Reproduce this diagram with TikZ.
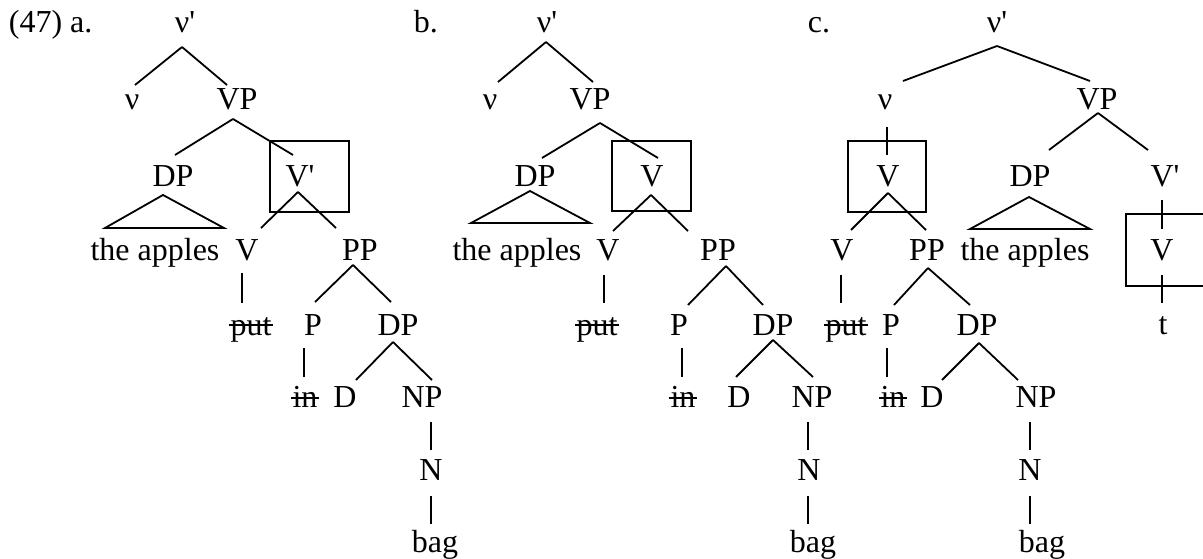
\documentclass[tikz,border=0pt]{standalone}
\usepackage{fontspec}
\setmainfont{Liberation Serif}[Ligatures=TeXOff]
\usetikzlibrary{calc}
\tikzstyle{lbl} = [anchor=base, inner sep=0pt, font=\fontsize{32}{38}\selectfont]
\tikzstyle{ex} = [lbl, anchor=base west]

\begin{document}
\begin{tikzpicture}[x=1pt, y=-1pt, line width=1.8pt]
    \clip (0,0) rectangle (1203,559);
    \fill[white] (0,0) rectangle (1203,559);

    % (47) a.
    \node[ex]  (lbla)  at (8,33)    {(47) a.};
    \node[lbl] (nupa)  at (185,33)  {ν'};
    \node[lbl] (nua)   at (132,110) {ν};
    \node[lbl] (vpa)   at (237,110) {VP};
    \node[lbl] (dpa)   at (173,187) {DP};
    \node[lbl] (vbara) at (300,187) {V'};
    \node[lbl] (apla)  at (155,260) {the apples};
    \node[lbl] (va)    at (247,260) {V};
    \node[lbl] (ppa)   at (360,260) {PP};
    \node[lbl] (puta)  at (251,335) {put};
    \node[lbl] (pa)    at (313,335) {P};
    \node[lbl] (dpla)  at (398,335) {DP};
    \node[lbl] (ina)   at (305,407) {in};
    \node[lbl] (da)    at (345,407) {D};
    \node[lbl] (npa)   at (422,407) {NP};
    \node[lbl] (na)    at (431,480) {N};
    \node[lbl] (baga)  at (435,552) {bag};

    \draw ($(nupa.base)+(-3,14)$) -- ($(nua.base)+(3,-25)$);
    \draw ($(nupa.base)+(-3,14)$) -- ($(vpa.base)+(-10,-25)$);
    \draw ($(vpa.base)+(-4,9)$) -- ($(dpa.base)+(2,-32)$);
    \draw ($(vpa.base)+(-4,9)$) -- ($(vbara.base)+(-7,-32)$);
    \draw ($(dpa.base)+(-10,8)$) -- ($(apla.base)+(-50,-32)$) -- ($(apla.base)+(69,-32)$) -- cycle;
    \draw ($(vbara.base)+(-2,5)$) -- ($(va.base)+(14,-32)$);
    \draw ($(vbara.base)+(-2,5)$) -- ($(ppa.base)+(-24,-32)$);
    \draw ($(va.base)+(-5,13)$) -- ($(puta.base)+(-9,-32)$);
    \draw ($(ppa.base)+(-7,5)$) -- ($(pa.base)+(2,-33)$);
    \draw ($(ppa.base)+(-7,5)$) -- ($(dpla.base)+(-7,-33)$);
    \draw ($(pa.base)+(-9,13)$) -- ($(ina.base)+(-1,-30)$);
    \draw ($(dpla.base)+(-5,7)$) -- ($(da.base)+(11,-27)$);
    \draw ($(dpla.base)+(-5,7)$) -- ($(npa.base)+(10,-27)$);
    \draw ($(npa.base)+(9,15)$) -- ($(na.base)+(0,-30)$);
    \draw ($(na.base)+(0,16)$) -- ($(baga.base)+(-4,-28)$);
    \draw ($(vbara.base)+(-30,-46)$) rectangle ($(vbara.base)+(49,25)$);
    % struck out copies
    \draw ($(puta.base west)+(-1,-10)$) -- ($(puta.base east)+(1,-10)$);
    \draw ($(ina.base west)+(-1,-9)$) -- ($(ina.base east)+(1,-9)$);

    % b.
    \node[ex]  (lblb)  at (413,33)  {b.};
    \node[lbl] (nupb)  at (547,33)  {ν'};
    \node[lbl] (nub)   at (490,110) {ν};
    \node[lbl] (vpb)   at (590,110) {VP};
    \node[lbl] (dpb)   at (535,187) {DP};
    \node[lbl] (vb)    at (652,187) {V};
    \node[lbl] (aplb)  at (517,260) {the apples};
    \node[lbl] (vlb)   at (608,260) {V};
    \node[lbl] (ppb)   at (718,260) {PP};
    \node[lbl] (putb)  at (597,335) {put};
    \node[lbl] (pb)    at (679,335) {P};
    \node[lbl] (dplb)  at (773,335) {DP};
    \node[lbl] (inb)   at (683,407) {in};
    \node[lbl] (db)    at (739,407) {D};
    \node[lbl] (npb)   at (812,407) {NP};
    \node[lbl] (nb)    at (809,480) {N};
    \node[lbl] (bagb)  at (813,552) {bag};

    \draw ($(nupb.base)+(-1,9)$) -- ($(nub.base)+(8,-28)$);
    \draw ($(nupb.base)+(-1,9)$) -- ($(vpb.base)+(3,-28)$);
    \draw ($(vpb.base)+(10,13)$) -- ($(dpb.base)+(7,-29)$);
    \draw ($(vpb.base)+(10,13)$) -- ($(vb.base)+(6,-29)$);
    \draw ($(dpb.base)+(-5,4)$) -- ($(aplb.base)+(-46,-37)$) -- ($(aplb.base)+(73,-37)$) -- cycle;
    \draw ($(vb.base)+(-1,8)$) -- ($(vlb.base)+(5,-29)$);
    \draw ($(vb.base)+(-1,8)$) -- ($(ppb.base)+(-30,-29)$);
    \draw ($(vlb.base)+(-4,15)$) -- ($(putb.base)+(7,-32)$);
    \draw ($(ppb.base)+(8,6)$) -- ($(pb.base)+(9,-30)$);
    \draw ($(ppb.base)+(8,6)$) -- ($(dplb.base)+(-10,-30)$);
    \draw ($(pb.base)+(3,13)$) -- ($(inb.base)+(-1,-30)$);
    \draw ($(dplb.base)+(0,5)$) -- ($(db.base)+(-3,-30)$);
    \draw ($(dplb.base)+(0,5)$) -- ($(npb.base)+(1,-30)$);
    \draw ($(npb.base)+(-4,15)$) -- ($(nb.base)+(-1,-30)$);
    \draw ($(nb.base)+(-1,16)$) -- ($(bagb.base)+(-5,-28)$);
    \draw ($(vb.base)+(-40,-46)$) rectangle ($(vb.base)+(39,24)$);
    \draw ($(putb.base west)+(-1,-10)$) -- ($(putb.base east)+(1,-10)$);
    \draw ($(inb.base west)+(-1,-9)$) -- ($(inb.base east)+(1,-9)$);

    % c.
    \node[ex]  (lblc)  at (807,33)   {c.};
    \node[lbl] (nupc)  at (997,33)   {ν'};
    \node[lbl] (nuc)   at (885,110)  {ν};
    \node[lbl] (vpc)   at (1097,110) {VP};
    \node[lbl] (vc)    at (888,187)  {V};
    \node[lbl] (dpc)   at (1030,187) {DP};
    \node[lbl] (vbarc) at (1165,187) {V'};
    \node[lbl] (vlc)   at (842,260)  {V};
    \node[lbl] (ppc)   at (927,260)  {PP};
    \node[lbl] (aplc)  at (1025,260) {the apples};
    \node[lbl] (vtc)   at (1162,260) {V};
    \node[lbl] (putc)  at (846,335)  {put};
    \node[lbl] (pc)    at (891,335)  {P};
    \node[lbl] (dplc)  at (977,335)  {DP};
    \node[lbl] (tc)    at (1163,334) {t};
    \node[lbl] (inc)   at (893,407)  {in};
    \node[lbl] (dc)    at (932,407)  {D};
    \node[lbl] (npc)   at (1036,407) {NP};
    \node[lbl] (nc)    at (1030,480) {N};
    \node[lbl] (bagc)  at (1042,552) {bag};

    \draw ($(nupc.base)+(0,13)$) -- ($(nuc.base)+(18,-29)$);
    \draw ($(nupc.base)+(0,13)$) -- ($(vpc.base)+(-7,-29)$);
    \draw ($(nuc.base)+(2,17)$) -- ($(vc.base)+(-1,-32)$);
    \draw ($(vpc.base)+(1,3)$) -- ($(dpc.base)+(19,-37)$);
    \draw ($(vpc.base)+(1,3)$) -- ($(vbarc.base)+(-17,-37)$);
    \draw ($(vc.base)+(0,6)$) -- ($(vlc.base)+(9,-30)$);
    \draw ($(vc.base)+(0,6)$) -- ($(ppc.base)+(-1,-30)$);
    \draw ($(dpc.base)+(-1,10)$) -- ($(aplc.base)+(-55,-31)$) -- ($(aplc.base)+(65,-31)$) -- cycle;
    \draw ($(vbarc.base)+(-3,13)$) -- ($(vtc.base)+(0,-31)$);
    \draw ($(vlc.base)+(-1,15)$) -- ($(putc.base)+(-5,-32)$);
    \draw ($(ppc.base)+(1,8)$) -- ($(pc.base)+(3,-30)$);
    \draw ($(ppc.base)+(1,8)$) -- ($(dplc.base)+(-7,-30)$);
    \draw ($(vtc.base)+(0,15)$) -- ($(tc.base)+(-1,-31)$);
    \draw ($(pc.base)+(-4,13)$) -- ($(inc.base)+(-6,-30)$);
    \draw ($(dplc.base)+(2,8)$) -- ($(dc.base)+(10,-27)$);
    \draw ($(dplc.base)+(2,8)$) -- ($(npc.base)+(-18,-27)$);
    \draw ($(npc.base)+(-6,15)$) -- ($(nc.base)+(0,-30)$);
    \draw ($(nc.base)+(0,16)$) -- ($(bagc.base)+(-12,-28)$);
    \draw ($(vc.base)+(-40,-46)$) rectangle ($(vc.base)+(38,25)$);
    \draw ($(vtc.base)+(-36,-46)$) rectangle ($(vtc.base)+(48,26)$);
    \draw ($(putc.base west)+(-1,-10)$) -- ($(putc.base east)+(1,-10)$);
    \draw ($(inc.base west)+(-1,-9)$) -- ($(inc.base east)+(1,-9)$);
\end{tikzpicture}
\end{document}
